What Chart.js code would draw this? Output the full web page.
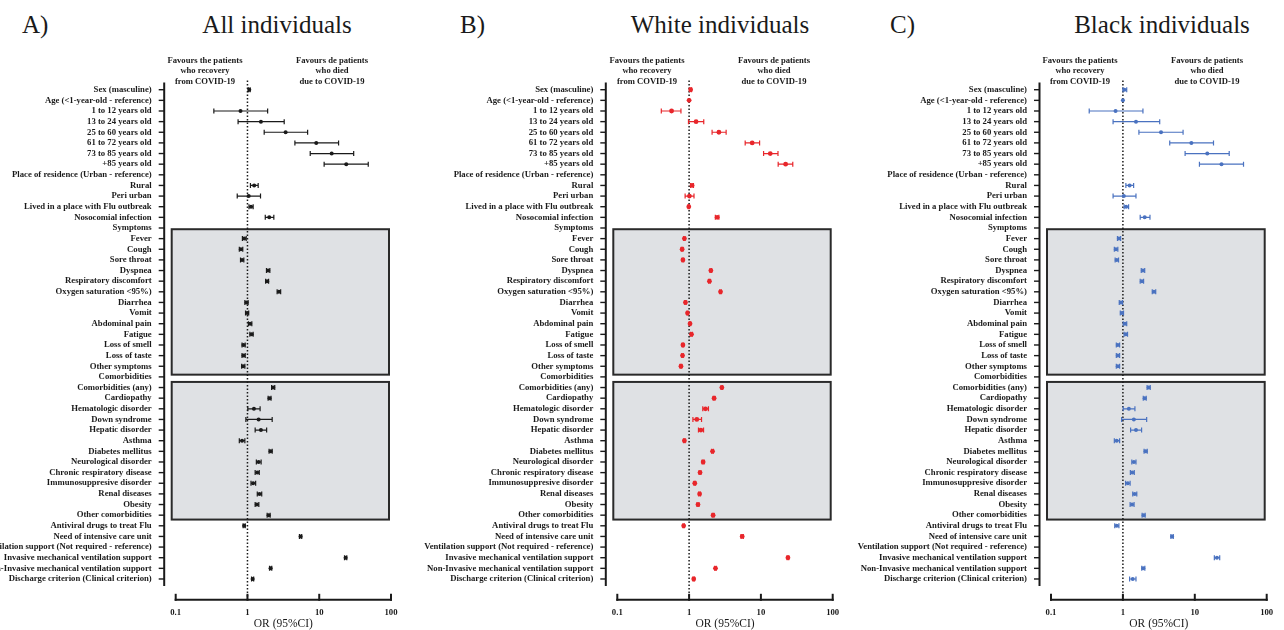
<!DOCTYPE html>
<html>
<head>
<meta charset="utf-8">
<title>Odds ratios for death due to COVID-19</title>
<script src="https://cdn.jsdelivr.net/npm/chart.js@4.4.1/dist/chart.umd.min.js"></script>
<style>
  html, body { margin: 0; padding: 0; background: #fff; }
  body { width: 1284px; height: 630px; position: relative; overflow: hidden;
         font-family: "Liberation Serif", "Times New Roman", serif; color: #1a1a1a; }
  .panel { position: absolute; top: 0; height: 630px; }
  .tag, .title { position: absolute; top: 12px; font-size: 25px; line-height: 25px; white-space: nowrap; }
  .title { transform: translateX(-50%); }
  .hdr { position: absolute; top: 55px; font-weight: bold; font-size: 8.6px; line-height: 10.3px;
         text-align: center; white-space: nowrap; transform: translateX(-50%); }
</style>
</head>
<body>

<div class="tag" style="left:22px">A)</div>
<div class="title" style="left:277px">All individuals</div>
<div class="tag" style="left:460px">B)</div>
<div class="title" style="left:720px">White individuals</div>
<div class="tag" style="left:890px">C)</div>
<div class="title" style="left:1162px">Black individuals</div>

<canvas id="chartAll" class="panel" style="left:0px" width="415" height="630"></canvas>
<canvas id="chartWhite" class="panel" style="left:415px" width="435" height="630"></canvas>
<canvas id="chartBlack" class="panel" style="left:850px" width="434" height="630"></canvas>

<script>
// Row labels of the forest plots (top to bottom)
const rowLabels = [
  'Sex (masculine)',
  'Age (<1-year-old - reference)',
  '1 to 12 years old',
  '13 to 24 years old',
  '25 to 60 years old',
  '61 to 72 years old',
  '73 to 85 years old',
  '+85 years old',
  'Place of residence (Urban - reference)',
  'Rural',
  'Peri urban',
  'Lived in a place with Flu outbreak',
  'Nosocomial infection',
  'Symptoms',
  'Fever',
  'Cough',
  'Sore throat',
  'Dyspnea',
  'Respiratory discomfort',
  'Oxygen saturation <95%)',
  'Diarrhea',
  'Vomit',
  'Abdominal pain',
  'Fatigue',
  'Loss of smell',
  'Loss of taste',
  'Other symptoms',
  'Comorbidities',
  'Comorbidities (any)',
  'Cardiopathy',
  'Hematologic disorder',
  'Down syndrome',
  'Hepatic disorder',
  'Asthma',
  'Diabetes mellitus',
  'Neurological disorder',
  'Chronic respiratory disease',
  'Immunosuppresive disorder',
  'Renal diseases',
  'Obesity',
  'Other comorbidities',
  'Antiviral drugs to treat Flu',
  'Need of intensive care unit',
  'Ventilation support (Not required - reference)',
  'Invasive mechanical ventilation support',
  'Non-Invasive mechanical ventilation support',
  'Discharge criterion (Clinical criterion)'
];

// X axis tick values (OR, log scale)
const xTickValues = [0.1, 1, 10, 100];

// A) All individuals: odds ratio, lower and upper 95% CI
const orAll = [1.06, null, 0.80, 1.54, 3.40, 9.08, 14.9, 23.8, null, 1.24, 1.04, 1.12, 2.01, null,
  0.90, 0.81, 0.84, 1.94, 1.88, 2.74, 0.97, 0.99, 1.09, 1.14, 0.88, 0.88, 0.87, null,
  2.28, 2.03, 1.23, 1.43, 1.54, 0.84, 2.10, 1.43, 1.37, 1.20, 1.47, 1.35, 1.97,
  0.90, 5.50, null, 23.3, 2.10, 1.18];
const loAll = [1.03, null, 0.34, 0.74, 1.71, 4.58, 7.49, 11.7, null, 1.10, 0.72, 1.05, 1.77, null,
  0.85, 0.77, 0.80, 1.84, 1.79, 2.59, 0.92, 0.94, 1.03, 1.08, 0.84, 0.84, 0.83, null,
  2.17, 1.94, 1.01, 0.95, 1.28, 0.77, 2.00, 1.33, 1.28, 1.12, 1.37, 1.28, 1.88,
  0.87, 5.30, null, 22.5, 2.03, 1.14];
const hiAll = [1.09, null, 1.91, 3.25, 6.89, 18.6, 30.2, 48.2, null, 1.41, 1.52, 1.20, 2.33, null,
  0.96, 0.86, 0.89, 2.05, 1.97, 2.90, 1.02, 1.04, 1.15, 1.20, 0.93, 0.93, 0.92, null,
  2.40, 2.13, 1.50, 2.21, 1.85, 0.92, 2.21, 1.55, 1.46, 1.30, 1.58, 1.44, 2.07,
  0.93, 5.70, null, 24.2, 2.18, 1.22];

// B) White individuals
const orWhite = [1.05, 1.00, 0.57, 1.25, 2.60, 7.56, 13.5, 22.1, null, 1.10, 1.01, 0.99, 2.46, null,
  0.86, 0.80, 0.82, 2.01, 1.92, 2.74, 0.89, 0.95, 1.03, 1.08, 0.82, 0.81, 0.77, null,
  2.86, 2.23, 1.69, 1.28, 1.46, 0.86, 2.12, 1.57, 1.42, 1.20, 1.40, 1.33, 2.16,
  0.84, 5.49, null, 23.8, 2.33, 1.16];
const loWhite = [1.02, 1.00, 0.41, 0.98, 2.09, 6.04, 10.9, 17.4, null, 1.05, 0.88, 0.97, 2.32, null,
  0.84, 0.78, 0.80, 1.96, 1.87, 2.67, 0.87, 0.93, 1.01, 1.05, 0.80, 0.79, 0.75, null,
  2.79, 2.17, 1.55, 1.13, 1.35, 0.84, 2.06, 1.52, 1.38, 1.17, 1.36, 1.29, 2.10,
  0.82, 5.30, null, 23.2, 2.27, 1.13];
const hiWhite = [1.08, 1.00, 0.77, 1.60, 3.28, 9.59, 17.3, 27.8, null, 1.15, 1.17, 1.01, 2.60, null,
  0.88, 0.82, 0.84, 2.06, 1.97, 2.81, 0.91, 0.97, 1.05, 1.11, 0.84, 0.83, 0.79, null,
  2.93, 2.29, 1.86, 1.49, 1.59, 0.88, 2.18, 1.62, 1.46, 1.23, 1.44, 1.37, 2.22,
  0.86, 5.69, null, 24.4, 2.39, 1.19];

// C) Black individuals
const orBlack = [1.05, 1.00, 0.79, 1.52, 3.39, 8.96, 14.9, 23.5, null, 1.24, 1.03, 1.11, 2.01, null,
  0.88, 0.80, 0.82, 1.90, 1.84, 2.70, 0.94, 0.97, 1.07, 1.10, 0.85, 0.85, 0.85, null,
  2.28, 2.01, 1.21, 1.42, 1.52, 0.82, 2.07, 1.42, 1.35, 1.17, 1.46, 1.34, 1.94,
  0.82, 4.83, null, 20.3, 1.92, 1.37];
const loBlack = [1.00, 1.00, 0.34, 0.73, 1.67, 4.48, 7.33, 11.6, null, 1.10, 0.73, 1.04, 1.74, null,
  0.84, 0.76, 0.78, 1.80, 1.74, 2.56, 0.89, 0.92, 1.01, 1.04, 0.81, 0.81, 0.81, null,
  2.17, 1.92, 1.01, 0.96, 1.28, 0.76, 1.97, 1.33, 1.27, 1.09, 1.37, 1.26, 1.85,
  0.77, 4.65, null, 18.7, 1.83, 1.24];
const hiBlack = [1.13, 1.00, 1.90, 3.25, 6.87, 18.2, 30.1, 47.6, null, 1.41, 1.52, 1.20, 2.38, null,
  0.93, 0.85, 0.87, 2.01, 1.94, 2.86, 0.99, 1.02, 1.13, 1.16, 0.90, 0.90, 0.90, null,
  2.40, 2.11, 1.47, 2.14, 1.82, 0.90, 2.18, 1.52, 1.44, 1.26, 1.56, 1.43, 2.04,
  0.88, 5.02, null, 22.2, 2.02, 1.52];

const FONT = '"Liberation Serif", "Times New Roman", serif';
const INK = '#1a1a1a';

// Shaded groups: symptoms and comorbidities
const groupBoxes = [
  { first: 'Fever', last: 'Other symptoms', padTop: 9.4, padBottom: 8.4 },
  { first: 'Comorbidities (any)', last: 'Other comorbidities', padTop: 5.6, padBottom: 4.4 }
];

// Draws the offset axes, the shaded group boxes, the OR = 1 line and the CI whiskers
const forestDecor = {
  id: 'forestDecor',
  beforeDatasetsDraw(chart, args, opts) {
    const { ctx, chartArea: ca, scales: { x, y } } = chart;
    const x01 = x.getPixelForValue(0.1), x100 = x.getPixelForValue(100), x1 = x.getPixelForValue(1);
    const axisY = ca.bottom + 15.5;
    const yAxisX = ca.left - 11.5;
    ctx.save();

    // group boxes
    groupBoxes.forEach(b => {
      const top = y.getPixelForValue(rowLabels.indexOf(b.first)) - b.padTop;
      const bottom = y.getPixelForValue(rowLabels.indexOf(b.last)) + b.padBottom;
      ctx.fillStyle = '#dfe1e4';
      ctx.fillRect(x01 - 4, top, (x100 - 2) - (x01 - 4), bottom - top);
      ctx.strokeStyle = '#2a2a2a';
      ctx.lineWidth = 2;
      ctx.strokeRect(x01 - 4, top, (x100 - 2) - (x01 - 4), bottom - top);
    });

    // y axis line and ticks
    ctx.strokeStyle = INK;
    ctx.lineWidth = 2;
    ctx.beginPath();
    ctx.moveTo(yAxisX, ca.top - 2);
    ctx.lineTo(yAxisX, ca.bottom + 1.7);
    ctx.stroke();
    ctx.lineWidth = 1.4;
    rowLabels.forEach((lab, i) => {
      const py = y.getPixelForValue(i);
      ctx.beginPath();
      ctx.moveTo(yAxisX - 5.5, py);
      ctx.lineTo(yAxisX, py);
      ctx.stroke();
    });

    // x axis line and ticks
    ctx.lineWidth = 2;
    ctx.beginPath();
    ctx.moveTo(x01 - 1, axisY);
    ctx.lineTo(x100 + 1, axisY);
    ctx.stroke();
    xTickValues.forEach(v => {
      const px = x.getPixelForValue(v);
      ctx.beginPath();
      ctx.moveTo(px, axisY + 1);
      ctx.lineTo(px, axisY - 6);
      ctx.stroke();
    });

    // reference line at OR = 1
    ctx.lineWidth = 1.5;
    ctx.setLineDash([1.5, 2]);
    ctx.beginPath();
    ctx.moveTo(x1, ca.top - 4);
    ctx.lineTo(x1, axisY - 1);
    ctx.stroke();
    ctx.setLineDash([]);

    // confidence interval whiskers
    const { lo, hi, color } = opts;
    ctx.strokeStyle = color;
    ctx.lineWidth = 1.2;
    rowLabels.forEach((lab, i) => {
      if (lo[i] == null || hi[i] == null || lo[i] === hi[i]) return;
      const py = y.getPixelForValue(i);
      const a = x.getPixelForValue(lo[i]), b = x.getPixelForValue(hi[i]);
      ctx.beginPath();
      ctx.moveTo(a, py); ctx.lineTo(b, py);
      ctx.moveTo(a, py - 2.5); ctx.lineTo(a, py + 2.5);
      ctx.moveTo(b, py - 2.5); ctx.lineTo(b, py + 2.5);
      ctx.stroke();
    });
    ctx.restore();
  }
};

function makeForest(canvasId, or, lo, hi, color, radius, yWidth, padRight) {
  const points = [];
  rowLabels.forEach((lab, i) => {
    if (or[i] != null) points.push({ x: or[i], y: lab });
  });
  return new Chart(document.getElementById(canvasId), {
    type: 'scatter',
    data: {
      datasets: [{
        data: points,
        backgroundColor: color,
        borderColor: color,
        pointRadius: radius,
        pointBorderWidth: 0,
        showLine: false
      }]
    },
    options: {
      responsive: false,
      animation: false,
      devicePixelRatio: 1,
      layout: { padding: { top: 84.4, right: padRight, bottom: 0, left: 0 } },
      plugins: {
        legend: { display: false },
        tooltip: { enabled: false },
        forestDecor: { lo, hi, color }
      },
      scales: {
        x: {
          type: 'logarithmic',
          position: 'bottom',
          min: 0.1,
          max: 100,
          grid: { display: false, drawTicks: false },
          border: { display: false },
          afterBuildTicks: s => { s.ticks = xTickValues.map(v => ({ value: v })); },
          afterFit: s => { s.height = 45.7; s.paddingLeft = 0; s.paddingRight = 0; },
          ticks: {
            padding: 23,
            autoSkip: false,
            maxRotation: 0,
            color: INK,
            font: { family: FONT, size: 8.7, weight: 'bold', lineHeight: 1.2 },
            callback: v => String(v)
          },
          title: {
            display: true,
            text: 'OR (95%CI)',
            color: INK,
            font: { family: FONT, size: 11.5, lineHeight: 1 },
            padding: { top: 0, bottom: 0 }
          }
        },
        y: {
          type: 'category',
          labels: rowLabels,
          offset: true,
          grid: { display: false, drawTicks: false },
          border: { display: false },
          afterFit: s => { s.width = yWidth; s.paddingTop = 0; s.paddingBottom = 0; },
          ticks: {
            autoSkip: false,
            padding: 24,
            color: INK,
            font: { family: FONT, size: 8.7, weight: 'bold' }
          }
        }
      }
    },
    plugins: [forestDecor]
  });
}

makeForest('chartAll', orAll, loAll, hiAll, '#1a1a1a', 2.0, 175.7, 24);
makeForest('chartWhite', orWhite, loWhite, hiWhite, '#e8262b', 2.4, 202.3, 17.3);
makeForest('chartBlack', orBlack, loBlack, hiBlack, '#4a72c0', 2.0, 201, 17.3);
</script>

<div class="hdr" style="left:205px">Favours the patients<br>who recovery<br>from COVID-19</div>
<div class="hdr" style="left:332px">Favours de patients<br>who died<br>due to COVID-19</div>
<div class="hdr" style="left:647px">Favours the patients<br>who recovery<br>from COVID-19</div>
<div class="hdr" style="left:774px">Favours de patients<br>who died<br>due to COVID-19</div>
<div class="hdr" style="left:1080px">Favours the patients<br>who recovery<br>from COVID-19</div>
<div class="hdr" style="left:1207px">Favours de patients<br>who died<br>due to COVID-19</div>
</body>
</html>
